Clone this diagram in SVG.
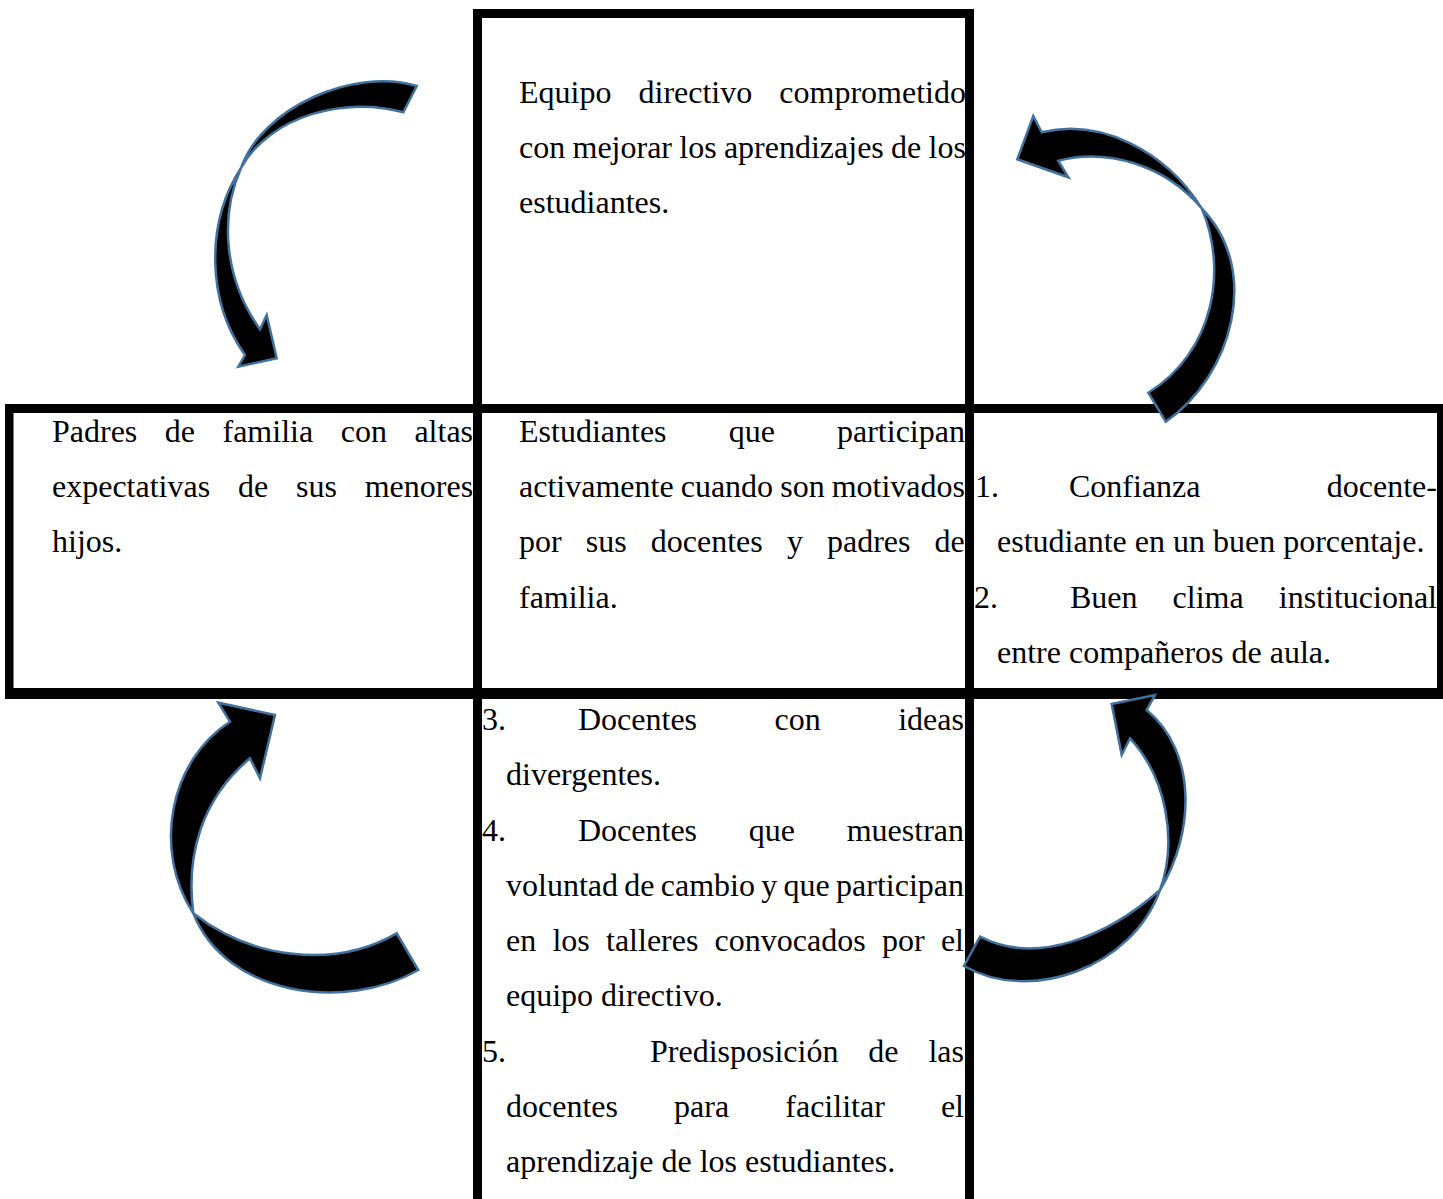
<svg xmlns="http://www.w3.org/2000/svg" width="1443" height="1199" viewBox="0 0 1443 1199">
<style>
text{font-family:"Liberation Serif","Times New Roman",serif;font-size:32px;fill:#000}
.arrow{fill:#000;stroke:#41719C;stroke-width:2.5;stroke-linejoin:miter}
.ln{fill:#000}
</style>
<rect width="1443" height="1199" fill="#fff"/>

<g id="node-top">
<text y="102.5"><tspan x="519">Equipo</tspan><tspan x="638.5">directivo</tspan><tspan x="779.3">comprometido</tspan></text>
<text y="157.5"><tspan x="519">con</tspan><tspan x="572.5">mejorar</tspan><tspan x="679.3">los</tspan><tspan x="723.9">aprendizajes</tspan><tspan x="891.1">de</tspan><tspan x="928.6">los</tspan></text>
<text x="519" y="212.5">estudiantes.</text>
</g>

<g id="node-left">
<text y="441.5"><tspan x="52">Padres</tspan><tspan x="164.8">de</tspan><tspan x="222.5">familia</tspan><tspan x="340.7">con</tspan><tspan x="414.4">altas</tspan></text>
<text y="496.5"><tspan x="52">expectativas</tspan><tspan x="238">de</tspan><tspan x="296">sus</tspan><tspan x="364.7">menores</tspan></text>
<text x="52" y="552">hijos.</text>
</g>

<g id="node-center">
<text y="441.5"><tspan x="519">Estudiantes</tspan><tspan x="728.7">que</tspan><tspan x="837">participan</tspan></text>
<text y="496.5"><tspan x="519">activamente</tspan><tspan x="680.7">cuando</tspan><tspan x="780.2">son</tspan><tspan x="831.7">motivados</tspan></text>
<text y="552"><tspan x="519">por</tspan><tspan x="585.8">sus</tspan><tspan x="650.8">docentes</tspan><tspan x="786.9">y</tspan><tspan x="827">padres</tspan><tspan x="934.6">de</tspan></text>
<text x="519" y="607.5">familia.</text>
</g>

<g id="node-right">
<text y="496.5"><tspan x="975">1.</tspan><tspan x="1069">Confianza</tspan><tspan x="1326.8">docente-</tspan></text>
<text x="997" y="552">estudiante en un buen porcentaje.</text>
<text y="607.5"><tspan x="974">2.</tspan><tspan x="1070">Buen</tspan><tspan x="1172.6">clima</tspan><tspan x="1278.8">institucional</tspan></text>
<text x="997" y="662.5">entre compañeros de aula.</text>
</g>

<g id="node-bottom">
<text y="730"><tspan x="482">3.</tspan><tspan x="578">Docentes</tspan><tspan x="774.6">con</tspan><tspan x="898.2">ideas</tspan></text>
<text x="506" y="785">divergentes.</text>
<text y="840.5"><tspan x="482">4.</tspan><tspan x="578">Docentes</tspan><tspan x="748.8">que</tspan><tspan x="846.7">muestran</tspan></text>
<text y="895.5"><tspan x="506">voluntad</tspan><tspan x="624.3">de</tspan><tspan x="660.8">cambio</tspan><tspan x="761.3">y</tspan><tspan x="783.6">que</tspan><tspan x="836.1">participan</tspan></text>
<text y="951"><tspan x="506">en</tspan><tspan x="552.4">los</tspan><tspan x="606">talleres</tspan><tspan x="714.6">convocados</tspan><tspan x="882">por</tspan><tspan x="940.9">el</tspan></text>
<text x="506" y="1006">equipo directivo.</text>
<text y="1061.5"><tspan x="482">5.</tspan><tspan x="650">Predisposición</tspan><tspan x="868.3">de</tspan><tspan x="928.4">las</tspan></text>
<text y="1117"><tspan x="506">docentes</tspan><tspan x="674.1">para</tspan><tspan x="785.3">facilitar</tspan><tspan x="940.9">el</tspan></text>
<text x="506" y="1172">aprendizaje de los estudiantes.</text>
</g>

<g id="frame">
<rect class="ln" x="473" y="9" width="501" height="9"/>
<rect class="ln" x="473" y="9" width="9" height="1190"/>
<rect class="ln" x="965" y="9" width="9" height="1190"/>
<rect class="ln" x="5" y="404" width="1438" height="9"/>
<rect class="ln" x="5" y="688" width="1438" height="11"/>
<rect class="ln" x="5" y="404" width="8.5" height="295"/>
<rect class="ln" x="1437" y="404" width="6" height="295"/>
</g>

<g id="connectors">
<path id="arrow-top-left" class="arrow" d="M416.7,86 C355,67 262,107 241,168 C218,220 226,282 260,329.3 L266.7,315 L276.7,358.3 L238.3,366.7 L245,355 C206,300 206,222 241,168 C270,115 347,96 403.3,112.3 Z"/>
<path id="arrow-top-right" class="arrow" d="M1165.7,421.7 C1232,376 1262,270 1201.7,208.3 C1165,150 1100,118 1041.7,132.3 L1033.3,116 L1017.3,159.3 L1068.3,177.3 L1058.3,160.7 C1108,148 1165,165 1201.7,208.3 C1228,270 1214,352 1148.3,392.7 Z"/>
<path id="arrow-bottom-left" class="arrow" d="M418.3,970 C345,1012 226,996 193.3,913.3 C152,850 170,760 230,721.7 L218.3,702.7 L275,715 L260,778.3 L250,758.3 C200,800 186,858 193.3,913.3 C250,958 333,970 396.7,933.3 Z"/>
<path id="arrow-bottom-right" class="arrow" d="M964,966 C1030,1004 1132,968 1160,890 C1195,832 1197,752 1146.7,710 L1155,695 L1111.7,704 L1121.7,755 L1130,738.3 C1166,777 1178,840 1160,890 C1108,936 1037,966 980,936.7 Z"/>
</g>
</svg>
